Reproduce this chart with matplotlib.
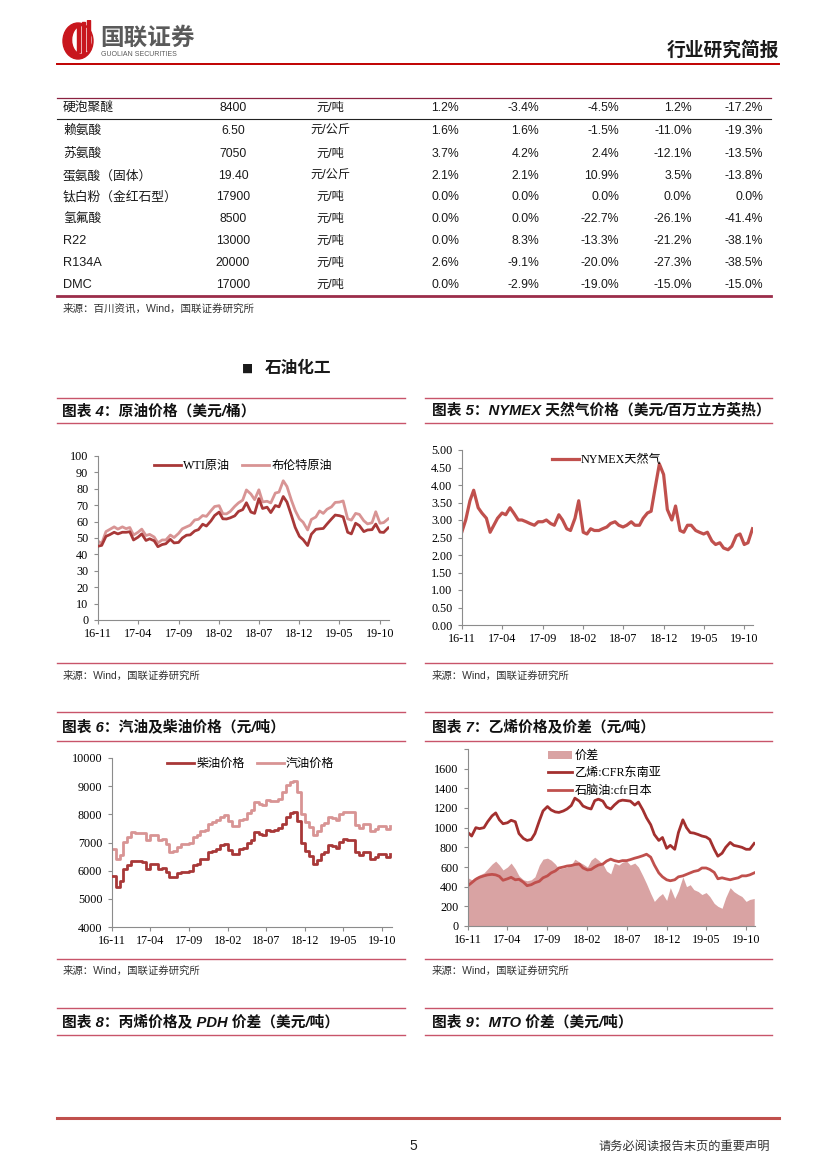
import pandas as pd
import matplotlib
matplotlib.use('Agg')
import matplotlib.pyplot as plt
import matplotlib.dates as mdates
from matplotlib.lines import Line2D
from matplotlib.patches import Ellipse, Rectangle

W, H = 827, 1169
CJK = 'Noto Sans CJK SC'
SERIF = ['Liberation Serif', CJK]
SANS = ['Liberation Sans', CJK]

# ---------------- table (end of the chemical price table) ----------------
names = ['硬泡聚醚', '赖氨酸', '苏氨酸', '蛋氨酸（固体）', '钛白粉（金红石型）',
         '氢氟酸', 'R22', 'R134A', 'DMC']
prices = ['8400', '6.50', '7050', '19.40', '17900', '8500', '13000', '20000', '17000']
units = ['元/吨', '元/公斤', '元/吨', '元/公斤', '元/吨', '元/吨', '元/吨', '元/吨', '元/吨']
chg_a = ['1.2%', '1.6%', '3.7%', '2.1%', '0.0%', '0.0%', '0.0%', '2.6%', '0.0%']
chg_b = ['-3.4%', '1.6%', '4.2%', '2.1%', '0.0%', '0.0%', '8.3%', '-9.1%', '-2.9%']
chg_c = ['-4.5%', '-1.5%', '2.4%', '10.9%', '0.0%', '-22.7%', '-13.3%', '-20.0%', '-19.0%']
chg_d = ['1.2%', '-11.0%', '-12.1%', '3.5%', '0.0%', '-26.1%', '-21.2%', '-27.3%', '-15.0%']
chg_e = ['-17.2%', '-19.3%', '-13.5%', '-13.8%', '0.0%', '-41.4%', '-38.1%', '-38.5%', '-15.0%']

# ---------------- time series, read roughly twice a month ----------------
dates = pd.date_range('2016-11-01', '2019-11-01', freq='SMS')

wti = [45, 45.5, 51, 52, 53.5, 52.5, 53.5, 53.5, 53.8, 48.8, 50.5, 52.5, 48.5, 49.5,
       48.3, 44.7, 46, 46.5, 49.2, 47, 47.3, 50, 51.7, 51.9, 54.3, 55.1, 58.4, 57.3,
       60.4, 63.7, 65.8, 61.7, 61.6, 62.3, 63.5, 66.2, 67.3, 71.5, 65.8, 65, 74, 68,
       68.8, 65.5, 69.8, 69, 75.3, 71.9, 63.7, 56.5, 51, 49, 45.4, 52.3, 55.3, 55.6,
       55.8, 58.5, 61.6, 64, 63.6, 62.9, 53.5, 52.5, 59, 57.6, 53.9, 54.9, 55.1, 58.5,
       53.6, 53.4, 56.2]
brent = [48.1, 46.6, 53.9, 55.2, 56.8, 55.4, 56.8, 55.7, 56.4, 51.8, 53.5, 55.4, 51.5,
         52.2, 50.6, 47, 48.8, 48.8, 51.8, 50.3, 52.8, 55.6, 56.8, 57.8, 61, 61.4, 63.7,
         63.2, 66.6, 69.2, 69.7, 64.8, 64.7, 66.2, 69.3, 71.4, 73.1, 79.3, 76.8, 73.4,
         79.4, 72, 72.4, 71.4, 77.4, 78, 84.9, 81.4, 72.9, 66.8, 61.7, 59.6, 54.9, 61.3,
         62.8, 66.5, 65, 67.5, 69, 71.7, 71.9, 72.6, 61.7, 60.9, 65, 64.4, 60.5, 58.6,
         59.3, 66, 59, 59.4, 61.7]

nymex = [2.67, 3.0, 3.55, 3.85, 3.35, 3.2, 3.05, 2.65, 2.85, 3.05, 3.2, 3.15, 3.35, 3.2,
         3.0, 3.0, 2.95, 2.9, 2.85, 2.95, 2.95, 3.0, 2.9, 2.85, 3.15, 3.0, 2.75, 2.7,
         3.05, 3.55, 2.65, 2.6, 2.75, 2.7, 2.7, 2.75, 2.8, 2.9, 2.95, 2.85, 2.8, 2.85,
         2.95, 2.85, 2.85, 3.05, 3.2, 3.25, 4.0, 4.6, 4.3, 3.3, 3.0, 3.4, 2.7, 2.65,
         2.85, 2.85, 2.7, 2.65, 2.6, 2.65, 2.4, 2.3, 2.35, 2.2, 2.15, 2.25, 2.55, 2.6,
         2.3, 2.35, 2.75]

diesel = [5800, 5420, 5650, 6070, 6190, 6350, 6330, 6330, 6300, 6070, 6230, 6230, 6070,
          6100, 5950, 5760, 5770, 5900, 5950, 5950, 5980, 6200, 6250, 6400, 6430, 6650,
          6700, 6780, 6900, 6950, 6750, 6600, 6600, 6780, 6800, 7000, 7100, 7370, 7300,
          7250, 7450, 7420, 7430, 7520, 7670, 7900, 8050, 8080, 7750, 7000, 6700, 6530,
          6250, 6380, 6580, 6650, 6900, 6880, 6800, 7020, 7110, 7080, 7080, 6650, 6540,
          6660, 6660, 6400, 6480, 6600, 6600, 6480, 6600]
gasoline = [6780, 6430, 6540, 7020, 7200, 7370, 7350, 7350, 7320, 7080, 7250, 7250, 7080,
            7120, 6960, 6660, 6700, 6840, 6950, 6950, 6970, 7200, 7250, 7420, 7450, 7670,
            7720, 7790, 7920, 7990, 7780, 7600, 7600, 7800, 7820, 8050, 8140, 8440, 8360,
            8320, 8500, 8460, 8480, 8560, 8790, 9030, 9150, 9170, 8800, 8000, 7730, 7550,
            7250, 7400, 7610, 7680, 7900, 7880, 7800, 8020, 8100, 8080, 8080, 7620, 7510,
            7640, 7640, 7400, 7480, 7600, 7600, 7470, 7580]

spread = [490, 470, 500, 520, 540, 580, 630, 660, 620, 570, 600, 640, 580, 510, 470, 460,
          470, 500, 620, 680, 690, 670, 630, 580, 590, 600, 620, 680, 650, 630, 600, 670,
          700, 670, 630, 560, 530, 640, 620, 650, 660, 620, 640, 600, 510, 430, 330, 250,
          300, 330, 260, 390, 280, 360, 500, 400, 420, 370, 350, 320, 340, 300, 230, 200,
          180, 290, 390, 350, 320, 300, 250, 270, 280]
ethylene = [950, 915, 1000, 990, 1000, 1060, 1120, 1150, 1080, 1040, 1050, 1075, 1060, 940,
            890, 870, 880, 940, 1070, 1170, 1215, 1180, 1160, 1155, 1170, 1190, 1225, 1300,
            1270, 1220, 1200, 1190, 1275, 1290, 1270, 1210, 1190, 1230, 1270, 1280, 1275,
            1270, 1230, 1260, 1180, 1100, 1030, 930, 870, 900, 790, 820, 780, 950, 1080,
            1000, 950, 945, 930, 915, 905, 880, 780, 710, 740, 800, 850, 820, 810, 800, 780,
            780, 840]
naphtha = [410, 440, 475, 495, 510, 520, 525, 520, 505, 465, 480, 495, 470, 475, 445, 410,
           420, 440, 455, 490, 510, 540, 560, 590, 600, 610, 615, 625, 630, 590, 570, 575,
           600, 620, 630, 660, 680, 665, 655, 665, 665, 675, 690, 700, 715, 730, 700, 620,
           540, 500, 470, 460, 470, 500, 510, 525, 540, 555, 565, 590, 590, 575, 545, 480,
           490, 480, 470, 480, 490, 510, 510, 520, 540]

tick_dates = pd.date_range('2016-11-01', '2019-10-01', freq='5MS')

fig = plt.figure(figsize=(W / 100, H / 100), dpi=100)
fig.patch.set_facecolor('white')


def fx(x):
    return x / W


def fy(y):
    return 1 - y / H


def hline(y, x0, x1, color, lw):
    fig.add_artist(Line2D([fx(x0), fx(x1)], [fy(y), fy(y)], color=color, lw=lw))


def text(x, y, s, **kw):
    kw.setdefault('va', 'center')
    fig.text(fx(x), fy(y), s, **kw)


def make_axes(l, t, r, b):
    return fig.add_axes([fx(l), fy(b), fx(r) - fx(l), fy(t) - fy(b)])


def style(ax, end, ylim, yticks, fmt, hide_last=False):
    for s in ['top', 'right']:
        ax.spines[s].set_visible(False)
    for s in ['left', 'bottom']:
        ax.spines[s].set_color('#8c8c8c')
        ax.spines[s].set_linewidth(0.8)
    ax.set_xlim(pd.Timestamp('2016-11-01'), pd.Timestamp(end))
    ax.set_ylim(*ylim)
    ax.set_xticks(tick_dates)
    ax.xaxis.set_major_formatter(mdates.DateFormatter('%y-%m'))
    ax.set_yticks(yticks)
    labels = [fmt % v for v in yticks]
    if hide_last:
        labels[-1] = ''
    ax.set_yticklabels(labels)
    ax.tick_params(direction='out', length=3, width=0.8, color='#8c8c8c',
                   labelsize=8.7, pad=3)
    ax.tick_params(axis='y', pad=4)
    for lab in ax.get_xticklabels() + ax.get_yticklabels():
        lab.set_fontfamily('Liberation Serif')


def leg(ax, x, y, loc='center', ncol=1, handlelength=2.2):
    ax.legend(loc=loc, bbox_to_anchor=(fx(x), fy(y)), bbox_transform=fig.transFigure,
              ncol=ncol, frameon=False, prop={'family': SERIF, 'size': 8.7},
              handlelength=handlelength, handletextpad=0.2, columnspacing=1.0,
              borderpad=0, borderaxespad=0, labelspacing=0.45)


# ---------------- page header ----------------
logo = fig.add_axes([fx(60), fy(60), fx(100) - fx(60), fy(20) - fy(60)])
logo.set_xlim(0, 40)
logo.set_ylim(0, 40)
logo.axis('off')
logo.add_patch(Ellipse((18, 19), 30, 36, color='#c8161d'))
logo.add_patch(Ellipse((22, 20), 18, 26, color='white'))
logo.add_patch(Rectangle((17, 8), 3, 28, color='#c8161d'))
logo.add_patch(Rectangle((22, 6), 3, 32, color='#c8161d'))
logo.add_patch(Rectangle((27, 10), 2.5, 30, color='#c8161d'))
text(100, 38, '国联证券', family=CJK, fontsize=17, weight='bold', color='#5a5a5a')
text(101, 54, 'GUOLIAN SECURITIES', family='Liberation Sans', fontsize=5,
     color='#5a5a5a')
text(779, 50, '行业研究简报', family=CJK, fontsize=13.5, weight='bold', ha='right',
     color='#1a1a1a')
hline(64, 57, 779, '#c00000', 1.4)

# ---------------- table ----------------
row_y = [108, 131, 154, 176, 197, 219, 241, 263, 285]
hline(98, 57, 771, '#8b2240', 0.9)
hline(119, 57, 771, '#222222', 0.8)
hline(296, 57, 771, '#9b2d4a', 2.0)
pct_cols = [chg_a, chg_b, chg_c, chg_d, chg_e]
pct_x = [459, 539, 619, 692, 763]
for i, y in enumerate(row_y):
    text(63, y, names[i], family=SANS, fontsize=9.2, color='#1a1a1a')
    text(233, y, prices[i], family=SANS, fontsize=8.8, ha='center', color='#1a1a1a')
    text(330, y, units[i], family=SANS, fontsize=8.8, ha='center', color='#1a1a1a')
    for col, x in zip(pct_cols, pct_x):
        text(x, y, col[i], family='Liberation Sans', fontsize=8.8, ha='right',
             color='#1a1a1a')
text(63, 309, '来源：百川资讯，Wind，国联证券研究所', family=SANS, fontsize=7.6,
     color='#333333')

# ---------------- section header ----------------
text(242, 368, '■', family='DejaVu Sans', fontsize=8.5, color='#1a1a1a')
text(265, 368, '石油化工', family=CJK, fontsize=12, weight='bold', color='#1a1a1a')

# ---------------- chart title bars ----------------
bar_color = '#c8546a'
for top, ty, bot, lt, rt in [(398, 411, 423, '图表 4：原油价格（美元/桶）',
                              '图表 5：NYMEX 天然气价格（美元/百万立方英热）'),
                             (712, 727, 741, '图表 6：汽油及柴油价格（元/吨）',
                              '图表 7：乙烯价格及价差（元/吨）'),
                             (1008, 1022, 1035, '图表 8：丙烯价格及 PDH 价差（美元/吨）',
                              '图表 9：MTO 价差（美元/吨）')]:
    hline(top, 57, 405, bar_color, 1.0)
    hline(bot, 57, 405, bar_color, 1.0)
    hline(top, 425, 772, bar_color, 1.0)
    hline(bot, 425, 772, bar_color, 1.0)
    text(62, ty, lt, family=['Liberation Sans', CJK], fontsize=10.6, weight='bold',
         style='italic', color='#111111')
    text(432, ty, rt, family=['Liberation Sans', CJK], fontsize=10.6, weight='bold',
         style='italic', color='#111111')

for y_line, y_text in [(663, 676), (959, 971)]:
    hline(y_line, 57, 405, bar_color, 1.0)
    hline(y_line, 425, 772, bar_color, 1.0)
    text(63, y_text, '来源：Wind，国联证券研究所', family=SANS, fontsize=7.5, color='#333333')
    text(432, y_text, '来源：Wind，国联证券研究所', family=SANS, fontsize=7.5,
         color='#333333')

# ---------------- chart 4: crude oil ----------------
ax4 = make_axes(98, 456, 389, 620)
ax4.plot(dates, wti, color='#a83838', lw=2.0, label='WTI原油', zorder=3)
ax4.plot(dates, brent, color='#d89494', lw=2.0, label='布伦特原油', zorder=2)
style(ax4, '2019-11-04', (0, 100), list(range(0, 101, 10)), '%d')
leg(ax4, 243, 466, ncol=2)

# ---------------- chart 5: NYMEX natural gas ----------------
ax5 = make_axes(462, 450, 753, 625)
ax5.plot(dates, nymex, color='#c0504d', lw=2.3, label='NYMEX天然气')
style(ax5, '2019-11-03', (0, 5), [i * 0.5 for i in range(11)], '%.2f')
leg(ax5, 607, 460)

# ---------------- chart 6: diesel & gasoline ----------------
ax6 = make_axes(112, 758, 392, 927)
ax6.plot(dates, diesel, color='#a83838', lw=2.0, drawstyle='steps-post', label='柴油价格',
         zorder=3)
ax6.plot(dates, gasoline, color='#d89494', lw=2.0, drawstyle='steps-post',
         label='汽油价格', zorder=2)
style(ax6, '2019-11-08', (4000, 10000), list(range(4000, 10001, 1000)), '%d')
leg(ax6, 251, 764, ncol=2)

# ---------------- chart 7: ethylene ----------------
ax7 = make_axes(468, 749, 755, 926)
ax7.fill_between(dates, spread, 0, color='#d9a3a3', lw=0, label='价差')
ax7.plot(dates, ethylene, color='#a3302f', lw=2.0, label='乙烯:CFR东南亚')
ax7.plot(dates, naphtha, color='#c0504d', lw=2.0, label='石脑油:cfr日本')
style(ax7, '2019-11-04', (0, 1800), list(range(0, 1801, 200)), '%d', hide_last=True)
leg(ax7, 548, 750, loc='upper left', handlelength=2.0)

# ---------------- footer ----------------
hline(1118, 57, 779, '#c0504d', 2.2)
text(413, 1146, '5', family='Liberation Sans', fontsize=10, ha='center', color='#222222')
text(770, 1146, '请务必阅读报告末页的重要声明', family=CJK, fontsize=8.8, ha='right',
     color='#333333')

fig.savefig('out.png', dpi=100)
